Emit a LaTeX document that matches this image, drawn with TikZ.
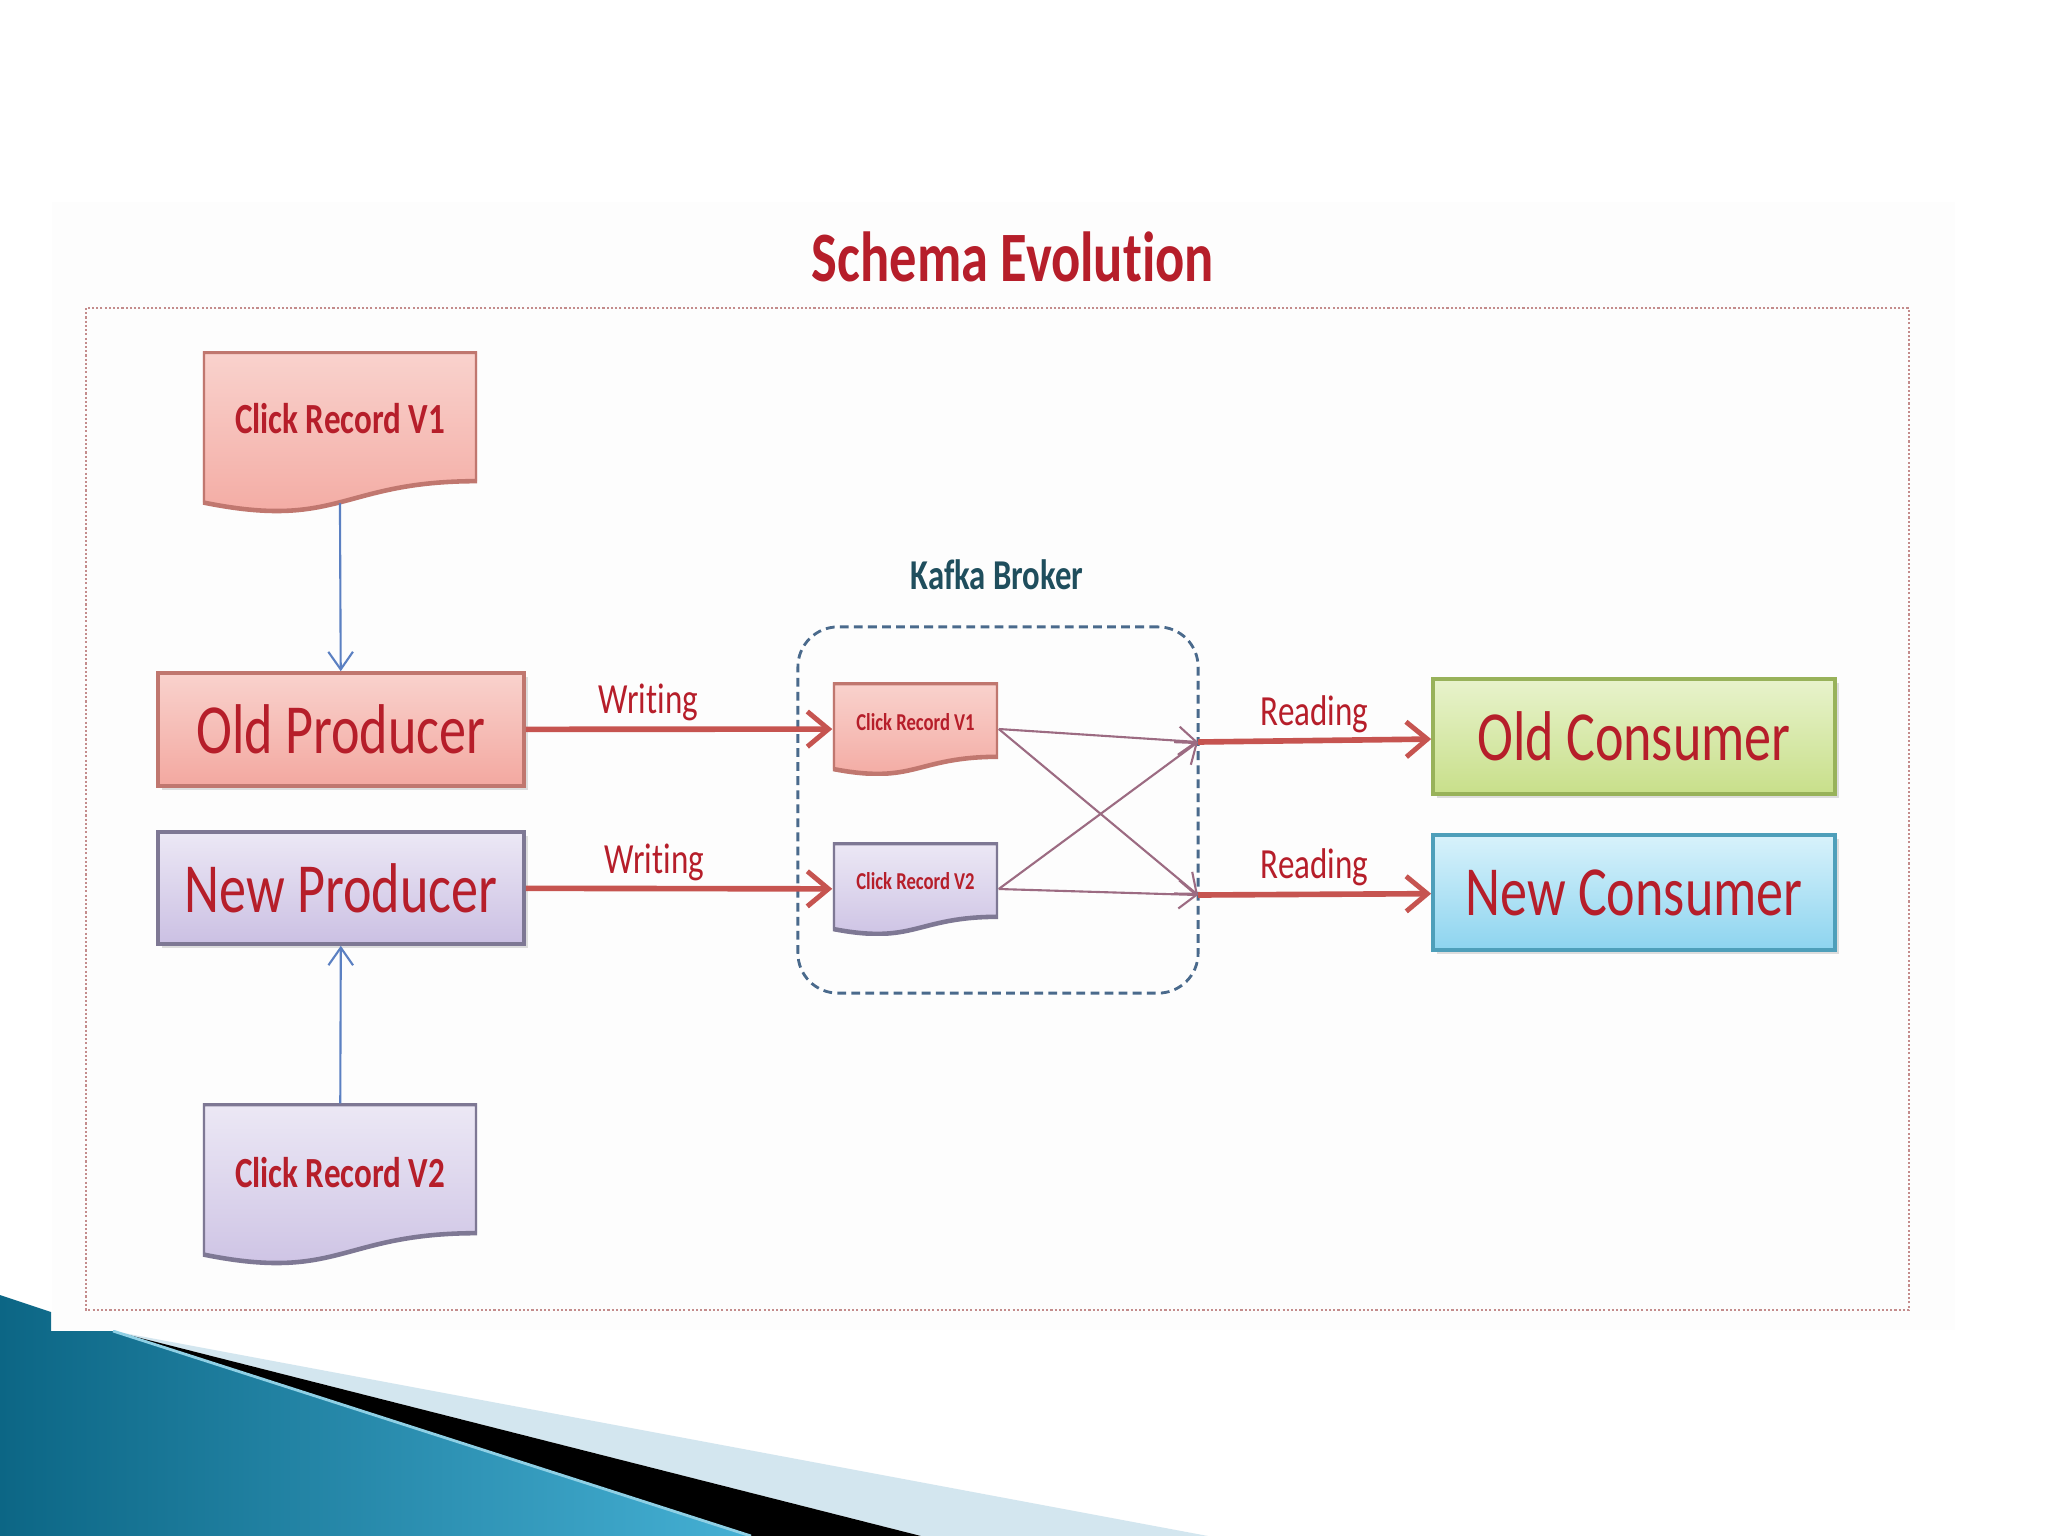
\documentclass[tikz,border=0pt]{standalone}
\usepackage{fontspec}
\setmainfont{Carlito}[Ligatures=NoCommon]
\usepackage{graphicx}
\usetikzlibrary{positioning,arrows.meta,shadows,calc}

\definecolor{pinkT}{HTML}{F9D2CD}
\definecolor{pinkB}{HTML}{F3A8A0}
\definecolor{pinkD}{HTML}{C0776F}
\definecolor{lilacT}{HTML}{ECE8F5}
\definecolor{lilacB}{HTML}{CBC0E3}
\definecolor{lilacD}{HTML}{7E7894}
\definecolor{greenT}{HTML}{E8F3CC}
\definecolor{greenB}{HTML}{C8DF8A}
\definecolor{greenD}{HTML}{98B25A}
\definecolor{cyanT}{HTML}{D8F2FB}
\definecolor{cyanB}{HTML}{8DD4EF}
\definecolor{cyanD}{HTML}{4E9FBA}
\definecolor{arrowred}{HTML}{C65450}
\definecolor{crossc}{HTML}{9C6B82}
\definecolor{feedblue}{HTML}{5B80C2}
\definecolor{brokerc}{HTML}{4A6A8C}
\definecolor{framec}{HTML}{C48C8C}
\definecolor{txtred}{HTML}{B61E2A}
\definecolor{tealtxt}{HTML}{1F4E5D}
\definecolor{blueA}{HTML}{0C6685}
\definecolor{blueB}{HTML}{45B0D4}
\definecolor{paleblue}{HTML}{D3E6EF}

% the pasted picture is stretched upwards
\newcommand{\tallt}[1]{\scalebox{1}[1.3]{#1}}

\begin{document}
\begin{tikzpicture}[
        x=0.01cm, y=-0.01cm,
        block/.style n args={3}{rectangle, draw=#3, line width=1pt, top color=#1, bottom color=#2,
            text=txtred, font=\fontsize{15.4pt}{18pt}\selectfont,
            drop shadow={opacity=0.25, shadow xshift=1.2pt, shadow yshift=-1.2pt}},
        doc/.style n args={3}{rectangle, inner sep=0pt, text=txtred,
            path picture={
                \shade[top color=#1, bottom color=#2, draw=#3, line width=1.3pt]
                    let \p1=(path picture bounding box.north west),
                        \p2=(path picture bounding box.south east) in
                    (\x1,\y1) -- (\x2,\y1) -- (\x2,{\y1-0.802*(\y1-\y2)})
                    .. controls ({0.5*(\x1+\x2)},{\y1-0.802*(\y1-\y2)})
                    and ({0.5*(\x1+\x2)},{\y1-1.1075*(\y1-\y2)})
                    .. (\x1,{\y1-0.934*(\y1-\y2)}) -- cycle;
            }},
        lbl/.style={text=txtred, font=\fontsize{9.4pt}{11pt}\selectfont, inner sep=1.5pt},
        fat/.style={draw=arrowred, line width=1.6pt,
            -{Straight Barb[length=6pt, width=10pt, line width=1.4pt]}},
        cross/.style={draw=crossc, line width=0.6pt,
            -{Straight Barb[length=5pt, width=8pt]}},
        feed/.style={draw=feedblue, line width=0.6pt,
            -{Straight Barb[length=5pt, width=7pt]}},
    ]

    % slide background and corner decoration
    \fill[white] (0,0) rectangle (2048,1536);
    \useasboundingbox (0,0) rectangle (2048,1536);
    \fill[paleblue] (113,1331) -- (1208,1536) -- (921,1536) -- cycle;
    \fill[black] (113,1331) -- (921,1536) -- (751,1536) -- cycle;
    \shade[left color=blueA, right color=blueB]
        (0,1295) -- (51,1312) -- (51,1331) -- (113,1331) -- (751,1536) -- (0,1536) -- cycle;
    \draw[blueB!60!white, line width=0.8pt] (113,1331) -- (751,1536);

    % pasted picture
    \fill[black!0.7] (52,202) rectangle (1955,1330);
    \draw[framec, line width=0.7pt, dash pattern=on 0.6pt off 0.6pt] (86,308) rectangle (1909,1310);

    % title
    \node[text=txtred, font=\bfseries\fontsize{15.5pt}{18pt}\selectfont] (title) at (1013,257) {\tallt{Schema Evolution}};

    % broker
    \node[draw=brokerc, line width=0.8pt, dash pattern=on 2.5pt off 1.5pt, rounded corners=0.4cm,
        minimum width=4cm, minimum height=3.66cm] (broker) at (998,810) {};
    \node[text=tealtxt, font=\bfseries\fontsize{9.3pt}{11pt}\selectfont] (bklabel) at (997,575) {\tallt{Kafka Broker}};

    % records
    \node[doc={pinkT}{pinkB}{pinkD}, minimum width=2.74cm, minimum height=1.61cm, text depth=8.2pt,
        font=\bfseries\fontsize{9.4pt}{11pt}\selectfont] (rec1) at (340,432.5) {\tallt{Click Record V1}};
    \node[doc={lilacT}{lilacB}{lilacD}, minimum width=2.74cm, minimum height=1.61cm, text depth=7.1pt,
        font=\bfseries\fontsize{9.4pt}{11pt}\selectfont] (rec2) at (340,1184.5) {\tallt{Click Record V2}};
    \node[doc={pinkT}{pinkB}{pinkD}, minimum width=1.65cm, minimum height=0.92cm, text depth=3.8pt,
        font=\bfseries\fontsize{5.3pt}{6pt}\selectfont] (v1) at (915.5,729) {\tallt{Click Record V1}};
    \node[doc={lilacT}{lilacB}{lilacD}, minimum width=1.65cm, minimum height=0.92cm, text depth=4.8pt,
        font=\bfseries\fontsize{5.3pt}{6pt}\selectfont] (v2) at (915.5,889) {\tallt{Click Record V2}};

    % producers and consumers
    \node[block={pinkT}{pinkB}{pinkD}, minimum width=3.66cm, minimum height=1.13cm] (oldprod) at (341,729.5) {\tallt{Old Producer}};
    \node[block={lilacT}{lilacB}{lilacD}, minimum width=3.66cm, minimum height=1.12cm] (newprod) at (341,888) {\tallt{New Producer}};
    \node[block={greenT}{greenB}{greenD}, minimum width=4.02cm, minimum height=1.15cm] (oldcons) at (1634,736.5) {\tallt{Old Consumer}};
    \node[block={cyanT}{cyanB}{cyanD}, minimum width=4.02cm, minimum height=1.15cm] (newcons) at (1634,892.5) {\tallt{New Consumer}};

    \coordinate (in1) at (1198,742);
    \coordinate (in2) at (1198,895);

    % schema into producers
    \draw[feed, shorten <=-3pt] (rec1.south) -- (oldprod);
    \draw[feed] (rec2) -- (newprod);

    % writing
    \draw[fat] (oldprod) -- node[lbl, pos=.40, above] {\tallt{Writing}} (v1);
    \draw[fat] (newprod) -- node[lbl, pos=.42, above] {\tallt{Writing}} (v2);

    % any version to any consumer
    \foreach \r in {v1,v2}
    \foreach \c in {in1,in2}
    \draw[cross] (\r.east) -- (\c);

    % reading
    \draw[fat] (in1) -- node[lbl, above] {\tallt{Reading}} (oldcons);
    \draw[fat] (in2) -- node[lbl, above] {\tallt{Reading}} (newcons);

\end{tikzpicture}
\end{document}
